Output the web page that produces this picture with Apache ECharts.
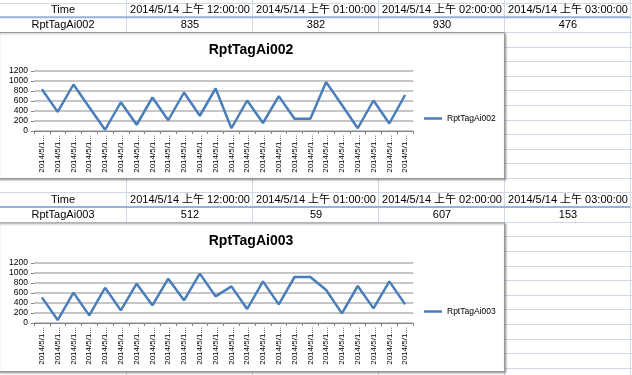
<!DOCTYPE html>
<html><head><meta charset="utf-8">
<script src="https://cdn.jsdelivr.net/npm/echarts@6/dist/echarts.min.js"></script>
<style>html,body{margin:0;padding:0;background:#fff;overflow:hidden}#c{width:632px;height:375px}</style>
</head><body><div id="c"></div>
<script>
// ---- data ----
const categories = [
  '2014/5/14 上午 12:00:00','2014/5/14 上午 01:00:00','2014/5/14 上午 02:00:00','2014/5/14 上午 03:00:00',
  '2014/5/14 上午 04:00:00','2014/5/14 上午 05:00:00','2014/5/14 上午 06:00:00','2014/5/14 上午 07:00:00',
  '2014/5/14 上午 08:00:00','2014/5/14 上午 09:00:00','2014/5/14 上午 10:00:00','2014/5/14 上午 11:00:00',
  '2014/5/14 下午 12:00:00','2014/5/14 下午 01:00:00','2014/5/14 下午 02:00:00','2014/5/14 下午 03:00:00',
  '2014/5/14 下午 04:00:00','2014/5/14 下午 05:00:00','2014/5/14 下午 06:00:00','2014/5/14 下午 07:00:00',
  '2014/5/14 下午 08:00:00','2014/5/14 下午 09:00:00','2014/5/14 下午 10:00:00','2014/5/14 下午 11:00:00'
];
const valuesAi002 = [835,382,930,476,25,575,125,670,215,770,305,850,55,610,160,697,245,245,978,520,55,610,150,720];
const valuesAi003 = [512,59,607,153,705,253,787,353,887,453,987,533,733,280,833,373,920,920,660,193,740,293,833,373];
const seriesNames = ['RptTagAi002','RptTagAi003'];
const headerLabel = 'Time';
const yTickLabels = ['0','200','400','600','800','1000','1200'];
const tableColumnCount = 4;

// ---- layout ----
const W = 632, H = 375;
const COL_W = 126;
const ROW_H = 14.6, ROW0 = 2.7;
const LINE_COLOR = '#4a7ebb';
const FONT_SHEET = '"Liberation Sans","Noto Sans CJK TC",sans-serif';
const charts = [
  {headerTop: 2.7, frameTop: 32, frameBottom: 178, plotTop: 71, titleY: 51, legendY: 119},
  {headerTop: 192.5, frameTop: 222.5, frameBottom: 371, plotTop: 263, titleY: 242.5, legendY: 312}
];
const seriesValues = [valuesAi002, valuesAi003];

const graphic = [];
// sheet gridlines
for (let k = 0; ROW0 + k * ROW_H < H + 1; k++) {
  const y = Math.round(ROW0 + k * ROW_H) + 0.5;
  graphic.push({type:'line', z:0, shape:{x1:0,y1:y,x2:W,y2:y}, style:{stroke:'#d0d7e5',lineWidth:1}});
}
for (let c = 1; c * COL_W < W; c++) {
  const x = c * COL_W + 0.5;
  graphic.push({type:'line', z:0, shape:{x1:x,y1:0,x2:x,y2:H}, style:{stroke:'#d0d7e5',lineWidth:1}});
}
// tables
charts.forEach((ch, i) => {
  const headerTop = ch.headerTop;
  const blueY = headerTop + ROW_H;
  const valY = blueY + (ch.frameTop - blueY) / 2;
  graphic.push({type:'rect', z:1, shape:{x:0,y:blueY-1,width:5*COL_W,height:2}, style:{fill:'#95b3d7'}});
  graphic.push({type:'text', z:2, style:{text:headerLabel, x:COL_W/2, y:headerTop + ROW_H/2, textAlign:'center', textVerticalAlign:'middle', font:'11px ' + FONT_SHEET, fill:'#000'}});
  graphic.push({type:'text', z:2, style:{text:seriesNames[i], x:COL_W/2, y:valY, textAlign:'center', textVerticalAlign:'middle', font:'11px ' + FONT_SHEET, fill:'#000'}});
  for (let j = 0; j < tableColumnCount; j++) {
    const cx = COL_W * (j + 1) + COL_W / 2 + 1;
    graphic.push({type:'text', z:2, style:{text:categories[j], x:cx, y:headerTop + ROW_H/2, textAlign:'center', textVerticalAlign:'middle', font:'11px ' + FONT_SHEET, fill:'#000'}});
    graphic.push({type:'text', z:2, style:{text:String(seriesValues[i][j]), x:cx, y:valY, textAlign:'center', textVerticalAlign:'middle', font:'11px ' + FONT_SHEET, fill:'#000'}});
  }
  // chart frame
  graphic.push({type:'rect', z:3, shape:{x:-2,y:ch.frameTop+0.5,width:506.5,height:ch.frameBottom-ch.frameTop},
    style:{fill:'#fff',stroke:'#9a9a9a',lineWidth:1,shadowBlur:2,shadowOffsetX:1,shadowOffsetY:1,shadowColor:'rgba(0,0,0,0.3)'}});
});

const grids = charts.map(ch => ({left:34, right:W-413, top:ch.plotTop, height:60, containLabel:false}));
const xAxes = charts.map((ch, i) => ({
  type:'category', gridIndex:i, data:categories, boundaryGap:true, z:5,
  axisLine:{show:true, lineStyle:{color:'#868686', width:1}},
  axisTick:{show:true, interval:0, length:3, lineStyle:{color:'#868686'}},
  axisLabel:{interval:0, rotate:90, margin:4, fontSize:8, color:'#000', fontFamily:'"Liberation Sans",sans-serif',
    formatter: v => v.slice(0, 8) + '...'},
  splitLine:{show:false}
}));
const yAxes = charts.map((ch, i) => ({
  type:'value', gridIndex:i, min:0, max:1200, interval:200, z:5,
  axisLine:{show:false},
  axisTick:{show:true, length:3, lineStyle:{color:'#868686'}},
  axisLabel:{margin:6, fontSize:8.5, color:'#000', fontFamily:'"Liberation Sans",sans-serif',
    formatter: v => yTickLabels[Math.round(v/200)]},
  splitLine:{show:true, lineStyle:{color:'#b3b3b3', width:1.5}}
}));
const series = charts.map((ch, i) => ({
  type:'line', name:seriesNames[i], xAxisIndex:i, yAxisIndex:i, data:seriesValues[i], z:6,
  showSymbol:false, symbol:'none', lineStyle:{color:LINE_COLOR, width:2.5}, itemStyle:{color:LINE_COLOR}
}));
const titles = charts.map((ch, i) => ({
  text:seriesNames[i], left:251, textAlign:'center', top:ch.titleY - 8, padding:0, z:6,
  textStyle:{fontSize:14, fontWeight:'bold', color:'#000', fontFamily:'"Liberation Sans",sans-serif'}
}));
const legends = charts.map((ch, i) => ({
  data:[seriesNames[i]], left:424, top:ch.legendY - 5, padding:0, z:6,
  icon:'rect', itemWidth:18, itemHeight:2.5,
  textStyle:{fontSize:8.5, color:'#000', fontFamily:'"Liberation Sans",sans-serif'}
}));

const chart = echarts.init(document.getElementById('c'), null, {renderer:'canvas'});
chart.setOption({
  animation:false, backgroundColor:'#fff',
  title:titles, legend:legends, grid:grids, xAxis:xAxes, yAxis:yAxes, series:series,
  graphic:{elements:graphic}
});
</script></body></html>
